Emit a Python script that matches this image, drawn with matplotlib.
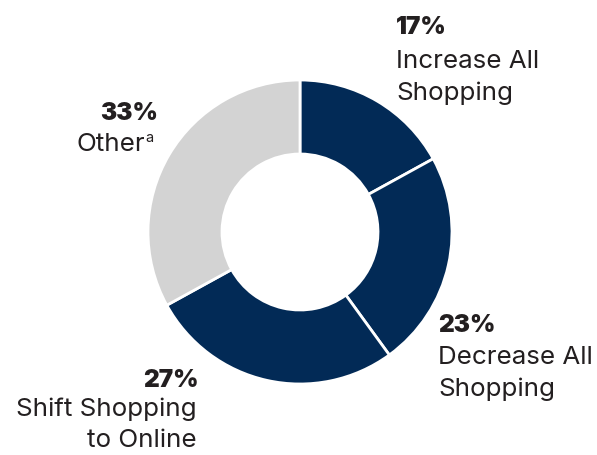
import matplotlib.pyplot as plt

# share of respondents by shopping behaviour
categories = ["Increase All\nShopping", "Decrease All\nShopping",
              "Shift Shopping\nto Online", "Other"]
shares = [17, 23, 27, 33]
colors = ["#022a56", "#022a56", "#022a56", "#d3d3d3"]

plt.rcParams['font.family'] = ['Inter', 'DejaVu Sans']
ink = "#231f20"

fig = plt.figure(figsize=(5.97, 4.55), dpi=100)
ax = fig.add_axes([0, 0, 1, 1])

ax.pie(shares, colors=colors, center=(300, 232), radius=152,
       startangle=270, counterclock=True,
       wedgeprops=dict(width=74, edgecolor='white', linewidth=2))

# pie() resets the limits, so set the pixel frame afterwards
ax.set_xlim(0, 597)
ax.set_ylim(455, 0)
ax.set_aspect('equal')
ax.axis('off')

pct_kw = dict(fontsize=17.5, fontweight='black', color=ink, va='baseline')
lab_kw = dict(fontsize=18.7, color=ink, va='baseline')

# Increase All Shopping
ax.text(396, 34, f"{shares[0]}%", ha='left', **pct_kw)
ax.text(396, 68, "Increase All", ha='left', **lab_kw)
ax.text(396, 100, "Shopping", ha='left', **lab_kw)

# Decrease All Shopping
ax.text(438, 332, f"{shares[1]}%", ha='left', **pct_kw)
ax.text(438, 364, "Decrease All", ha='left', **lab_kw)
ax.text(438, 396, "Shopping", ha='left', **lab_kw)

# Shift Shopping to Online
ax.text(199, 387, f"{shares[2]}%", ha='right', **pct_kw)
ax.text(197, 416, "Shift Shopping", ha='right', **lab_kw)
ax.text(197, 447, "to Online", ha='right', **lab_kw)

# Other
ax.text(158, 120, f"{shares[3]}%", ha='right', **pct_kw)
other = ax.text(145, 151, "Other", ha='right', **lab_kw)
ax.annotate("a", xy=(1, 1), xycoords=other, xytext=(0.5, 1.5),
            textcoords='offset points', fontsize=10.5, color=ink,
            ha='left', va='top')

fig.savefig("out.png", dpi=100)
